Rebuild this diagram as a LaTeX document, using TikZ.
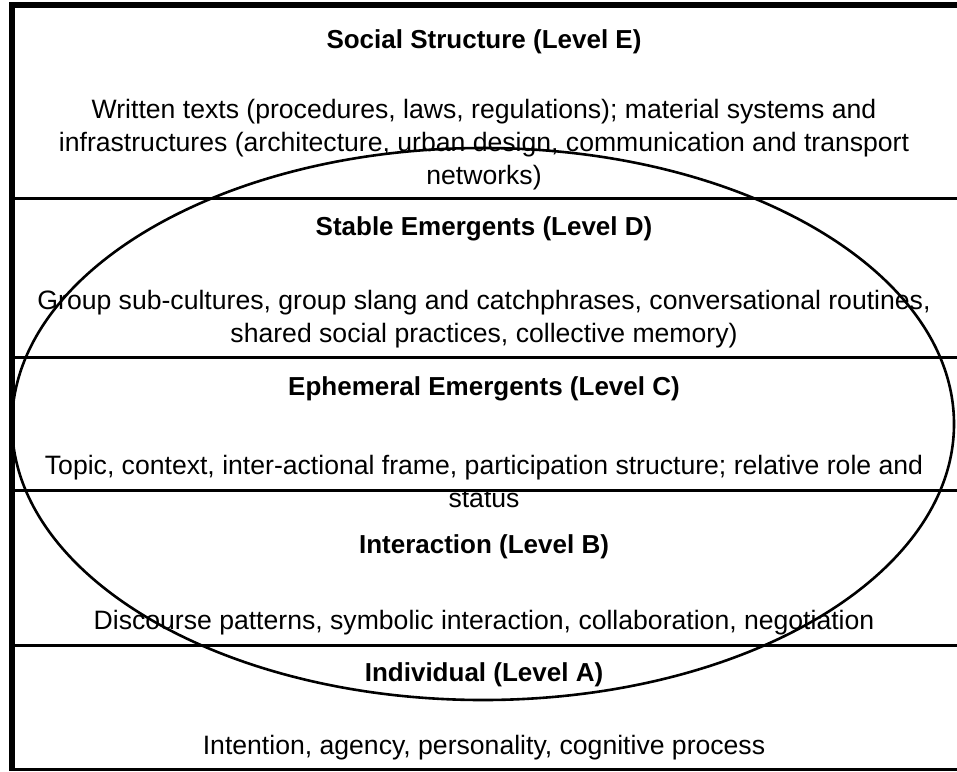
\documentclass[tikz,border=0pt]{standalone}
\usepackage{fontspec}
\setmainfont{Liberation Sans}
\begin{document}
\begin{tikzpicture}[x=1pt,y=-1pt,
  title/.style={font=\fontsize{26}{33}\selectfont\bfseries, align=center, inner sep=0pt},
  body/.style={font=\fontsize{26.6}{33}\selectfont, align=center, inner sep=0pt},
  thin/.style={line width=3pt},
  thick/.style={line width=5.5pt}]
\useasboundingbox (0,0) rectangle (957,771);
% frame
\draw[thick] (12,771) -- (12,5) -- (957,5);
\draw[thin] (12,198) -- (957,198);
\draw[thin] (12,357) -- (957,357);
\draw[thin] (12,490) -- (957,490);
\draw[thin] (12,645) -- (957,645);
\draw[thin] (12,769.5) -- (957,769.5);
% ellipse
\draw[line width=2.6pt] (483,424) ellipse [x radius=471, y radius=276];
% texts
\node[title] (tE) at (484,42) {Social Structure (Level E)};
\node[body] (bE) at (484,144.5) {Written texts (procedures, laws, regulations); material systems and\\infrastructures (architecture, urban design, communication and transport\\networks)};
\node[title] (tD) at (484,229) {Stable Emergents (Level D)};
\node[body] (bD) at (484,319) {Group sub-cultures, group slang and catchphrases, conversational routines,\\shared social practices, collective memory)};
\node[title] (tC) at (484,389) {Ephemeral Emergents (Level C)};
\node[body] (bC) at (484,481) {Topic, context, inter-actional frame, participation structure; relative role and\\status};
\node[title] (tB) at (484,547) {Interaction (Level B)};
\node[body] (bB) at (484,623) {Discourse patterns, symbolic interaction, collaboration, negotiation};
\node[title] (tA) at (484,675) {Individual (Level A)};
\node[body] (bA) at (484,748) {Intention, agency, personality, cognitive process};
\end{tikzpicture}
\end{document}
